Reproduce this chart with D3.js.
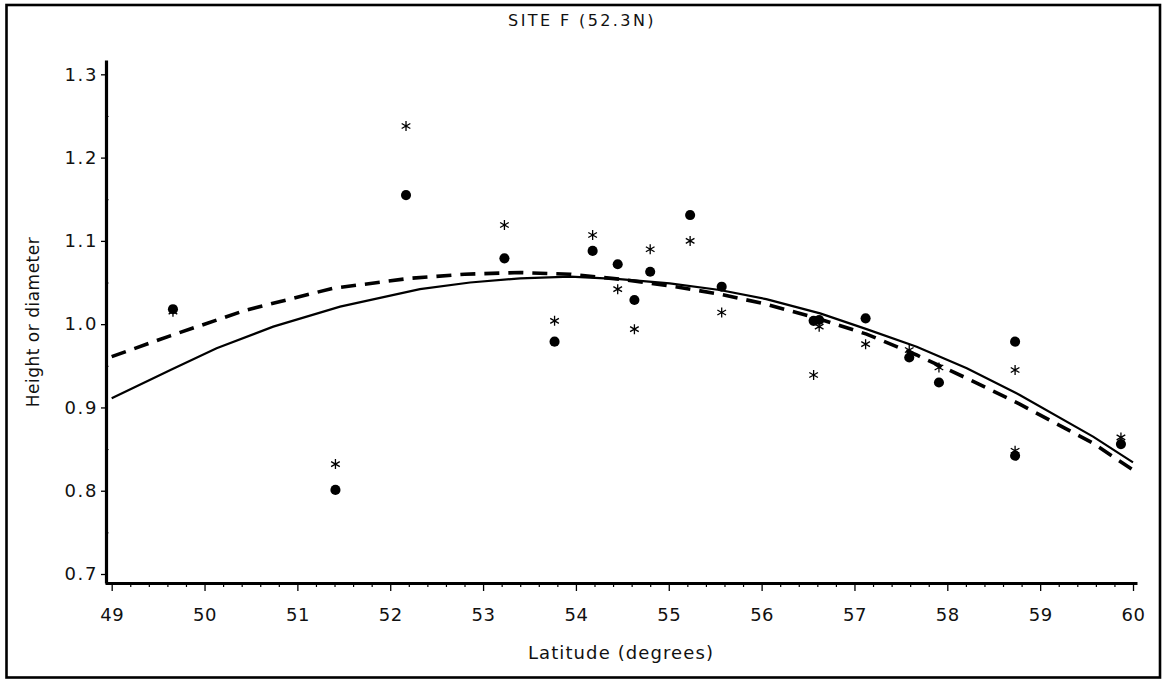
<!DOCTYPE html>
<html>
<head>
<meta charset="utf-8">
<script src="https://cdn.jsdelivr.net/npm/d3@7"></script>
<style>
  html, body { margin: 0; padding: 0; background: #fff; }
  svg text { font-family: "DejaVu Sans", sans-serif; fill: #111; }
</style>
</head>
<body>
<svg id="chart" width="1163" height="679"></svg>
<script>
// ---- data ----
const title = "SITE F (52.3N)";
const xLabel = "Latitude (degrees)";
const yLabel = "Height or diameter";

const xTicks = [49, 50, 51, 52, 53, 54, 55, 56, 57, 58, 59, 60];
const yTicks = [0.7, 0.8, 0.9, 1.0, 1.1, 1.2, 1.3];

// latitudes of the sites
const lat = [49.66, 51.41, 52.17, 53.23, 53.77, 54.18, 54.45, 54.63, 54.80, 55.23,
             55.57, 56.56, 56.62, 57.12, 57.59, 57.91, 58.73, 58.73, 59.87];
// filled circles
const dotVal = [1.018, 0.801, 1.155, 1.079, 0.979, 1.088, 1.072, 1.029, 1.063, 1.131,
                1.045, 1.004, 1.005, 1.007, 0.960, 0.930, 0.979, 0.842, 0.856];
// asterisks
const starVal = [1.015, 0.832, 1.238, 1.119, 1.004, 1.107, 1.042, 0.994, 1.090, 1.100,
                 1.014, 0.939, 0.997, 0.976, 0.969, 0.948, 0.945, 0.848, 0.864];

// solid fitted curve
const solidLat = [49.0, 49.65, 50.13, 50.74, 51.46, 52.32, 52.86, 53.40, 53.94, 54.47,
                  55.01, 55.55, 56.05, 56.63, 57.13, 57.67, 58.21, 58.78, 59.57, 60.0];
const solidVal = [0.911, 0.946, 0.971, 0.997, 1.021, 1.042, 1.050, 1.055, 1.057, 1.054,
                  1.049, 1.041, 1.030, 1.013, 0.994, 0.973, 0.947, 0.915, 0.865, 0.834];
// dashed fitted curve
const dashLat = [49.0, 49.63, 50.45, 51.38, 52.21, 52.80, 53.40, 53.94, 54.47, 55.01,
                 55.34, 55.55, 56.05, 56.63, 57.13, 57.67, 58.21, 58.78, 59.57, 60.0];
const dashVal = [0.961, 0.986, 1.017, 1.043, 1.055, 1.060, 1.062, 1.060, 1.054, 1.046,
                 1.040, 1.036, 1.024, 1.006, 0.988, 0.963, 0.935, 0.904, 0.857, 0.825];

// ---- layout ----
const svg = d3.select("#chart");

const x = d3.scaleLinear().domain([48.928, 60.043]).range([105, 1137]);
const y = d3.scaleLinear().domain([0.6892, 1.3172]).range([583, 60]);

// outer frame
svg.append("rect")
  .attr("x", 6.5).attr("y", 5).attr("width", 1153.5).attr("height", 672.5)
  .attr("fill", "none").attr("stroke", "#000").attr("stroke-width", 2.6);

// title
svg.append("text")
  .attr("x", 582).attr("y", 26)
  .attr("text-anchor", "middle")
  .style("font-size", "16px").style("letter-spacing", "2.4px")
  .text(title);

// x axis: minor ticks
const xMinor = d3.range(49, 60.001, 0.2).filter(v => Math.abs(v - Math.round(v)) > 1e-6);
svg.append("g")
  .attr("transform", "translate(0,583)")
  .call(d3.axisBottom(x).tickValues(xMinor).tickSize(4).tickFormat(""))
  .call(g => g.select(".domain").remove())
  .call(g => g.selectAll(".tick line").attr("stroke", "#000").attr("stroke-width", 1.2));

// x axis: major ticks
const gx = svg.append("g")
  .attr("transform", "translate(0,583)")
  .call(d3.axisBottom(x).tickValues(xTicks).tickSize(8).tickSizeOuter(0)
        .tickPadding(17).tickFormat(d3.format("d")));
gx.select(".domain").attr("stroke", "#000").attr("stroke-width", 3.2);
gx.selectAll(".tick line").attr("stroke", "#000").attr("stroke-width", 1.3);
gx.selectAll(".tick text").style("font-size", "18px").style("font-family", "DejaVu Sans")
  .style("letter-spacing", "0.5px").attr("fill", "#111");

// y axis: minor ticks (inside)
const yMinor = d3.range(0.75, 1.3, 0.1);
svg.append("g")
  .attr("transform", "translate(106,0)")
  .call(d3.axisRight(y).tickValues(yMinor).tickSize(3).tickFormat(""))
  .call(g => g.select(".domain").remove())
  .call(g => g.selectAll(".tick line").attr("stroke", "#777").attr("stroke-width", 1));

// y axis: major ticks
const gy = svg.append("g")
  .attr("transform", "translate(106,0)")
  .call(d3.axisLeft(y).tickValues(yTicks).tickSize(5).tickSizeOuter(0)
        .tickPadding(3).tickFormat(d3.format(".1f")));
gy.select(".domain").attr("stroke", "#000").attr("stroke-width", 3.2);
gy.selectAll(".tick line").attr("stroke", "#000").attr("stroke-width", 1.3);
gy.selectAll(".tick text").style("font-size", "18px").style("font-family", "DejaVu Sans")
  .style("letter-spacing", "1.6px").attr("fill", "#111");

// axis titles
svg.append("text")
  .attr("x", 621).attr("y", 659)
  .attr("text-anchor", "middle")
  .style("font-size", "18px").style("letter-spacing", "1.1px")
  .text(xLabel);

svg.append("text")
  .attr("transform", "translate(39,322) rotate(-90)")
  .attr("text-anchor", "middle")
  .style("font-size", "17px").style("letter-spacing", "0.5px")
  .text(yLabel);

// curves
const line = d3.line().x(d => x(d[0])).y(d => y(d[1]));
svg.append("path")
  .datum(solidLat.map((v, i) => [v, solidVal[i]]))
  .attr("d", line)
  .attr("fill", "none").attr("stroke", "#000").attr("stroke-width", 2.2);
svg.append("path")
  .datum(dashLat.map((v, i) => [v, dashVal[i]]))
  .attr("d", line)
  .attr("fill", "none").attr("stroke", "#000").attr("stroke-width", 3.6)
  .attr("stroke-dasharray", "15,9");

// points
const circle = d3.symbol().type(d3.symbolCircle).size(80);
svg.append("g").selectAll("path")
  .data(lat.map((v, i) => [v, dotVal[i]]))
  .join("path")
  .attr("transform", d => `translate(${x(d[0])},${y(d[1])})`)
  .attr("d", circle)
  .attr("fill", "#000");

const star = d3.symbol().type(d3.symbolAsterisk).size(70);
svg.append("g").selectAll("path")
  .data(lat.map((v, i) => [v, starVal[i]]))
  .join("path")
  .attr("transform", d => `translate(${x(d[0])},${y(d[1])})`)
  .attr("d", star)
  .attr("fill", "none").attr("stroke", "#000").attr("stroke-width", 1.3);
</script>
</body>
</html>
